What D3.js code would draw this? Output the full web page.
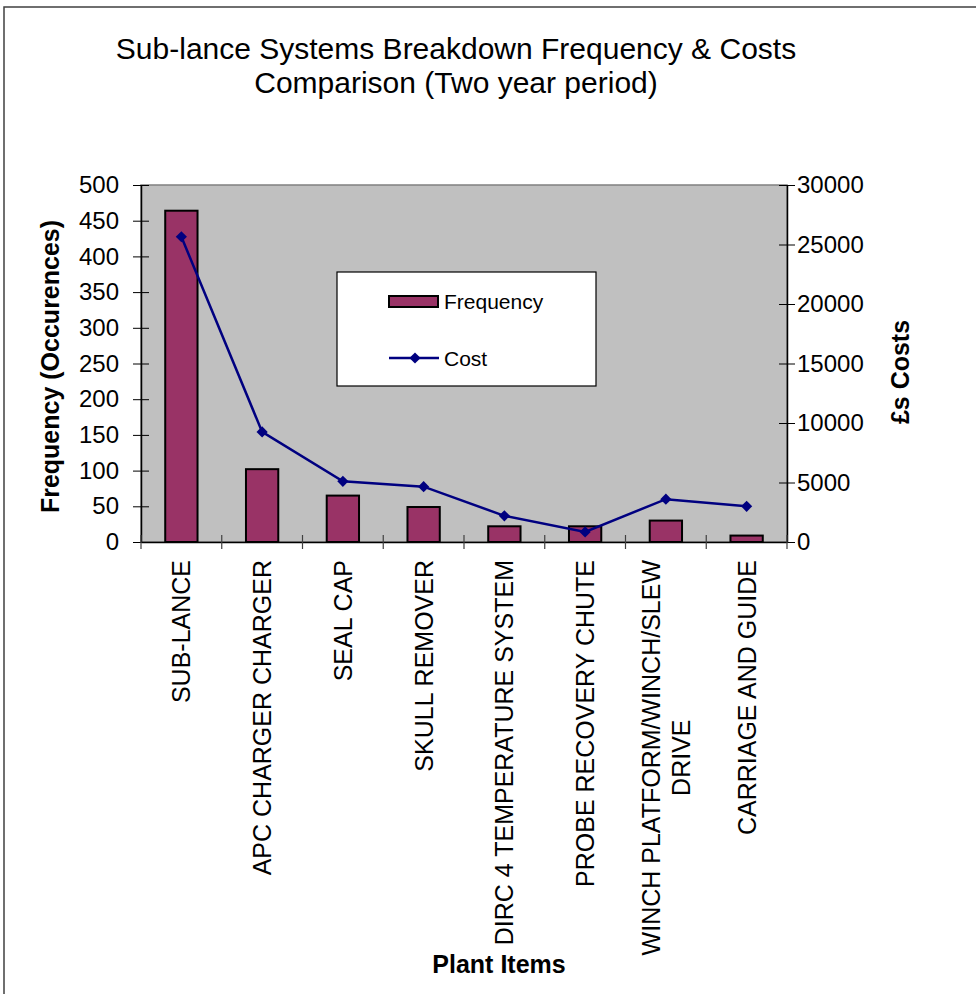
<!DOCTYPE html>
<html>
<head>
<meta charset="utf-8">
<script src="https://cdn.jsdelivr.net/npm/d3@7"></script>
<style>
  html, body { margin: 0; padding: 0; background: #fff; }
  svg { display: block; font-family: "Liberation Sans", Arial, sans-serif; }
</style>
</head>
<body>
<svg id="chart" width="976" height="994"></svg>
<script>
const categories = [
  "SUB-LANCE",
  "APC CHARGER CHARGER",
  "SEAL CAP",
  "SKULL REMOVER",
  "DIRC 4 TEMPERATURE SYSTEM",
  "PROBE RECOVERY CHUTE",
  "WINCH PLATFORM/WINCH/SLEW\nDRIVE",
  "CARRIAGE AND GUIDE"
];
const frequency = [464, 102, 65, 49, 22, 22, 30, 9];
const cost = [25650, 9250, 5100, 4650, 2200, 850, 3600, 3000];
const freqTicks = [0, 50, 100, 150, 200, 250, 300, 350, 400, 450, 500];
const costTicks = [0, 5000, 10000, 15000, 20000, 25000, 30000];
const titleLines = ["Sub-lance Systems Breakdown Frequency & Costs", "Comparison (Two year period)"];

const svg = d3.select("#chart");
const plot = { left: 141, right: 787, top: 185, bottom: 542 };

// outer frame
svg.append("rect").attr("x", 4).attr("y", 7).attr("width", 1000).attr("height", 1000)
  .attr("fill", "#fff").attr("stroke", "#404040").attr("stroke-width", 1.5);

// title
svg.append("g").selectAll("text").data(titleLines).join("text")
  .attr("x", 456).attr("y", (d, i) => 59 + i * 34)
  .attr("text-anchor", "middle").attr("font-size", 30).attr("fill", "#000")
  .text(d => d);

const x = d3.scaleBand().domain(categories).range([plot.left, plot.right]).paddingInner(0).paddingOuter(0);
const yL = d3.scaleLinear().domain([0, 500]).range([plot.bottom, plot.top]);
const yR = d3.scaleLinear().domain([0, 30000]).range([plot.bottom, plot.top]);

// plot area
svg.append("rect").attr("x", plot.left).attr("y", plot.top)
  .attr("width", plot.right - plot.left).attr("height", plot.bottom - plot.top)
  .attr("fill", "#c0c0c0").attr("stroke", "#808080").attr("stroke-width", 1.5);

// bars
const bw = x.bandwidth() * 0.4;
svg.append("g").selectAll("rect").data(frequency).join("rect")
  .attr("x", (d, i) => x(categories[i]) + x.bandwidth() / 2 - bw / 2)
  .attr("y", d => yL(d))
  .attr("width", bw)
  .attr("height", d => yL(0) - yL(d))
  .attr("fill", "#993366").attr("stroke", "#000").attr("stroke-width", 2);

// left axis
const axL = d3.axisLeft(yL).tickValues(freqTicks).tickFormat(d3.format("d")).tickSizeInner(8).tickSizeOuter(0).tickPadding(14);
const gL = svg.append("g").attr("transform", `translate(${plot.left},0)`).call(axL);
gL.select(".domain").attr("stroke", "#000").attr("stroke-width", 1.5);
gL.selectAll(".tick line").attr("x2", -8).attr("x1", 8).attr("stroke", "#000");
gL.selectAll(".tick text").attr("font-size", 24).attr("font-family", "Liberation Sans, Arial, sans-serif").attr("fill", "#000").attr("x", -22);

// right axis
const axR = d3.axisRight(yR).tickValues(costTicks).tickFormat(d3.format("d")).tickSizeInner(8).tickSizeOuter(0).tickPadding(9);
const gR = svg.append("g").attr("transform", `translate(${plot.right},0)`).call(axR);
gR.select(".domain").attr("stroke", "#000").attr("stroke-width", 1.5);
gR.selectAll(".tick line").attr("x1", -8).attr("x2", 8).attr("stroke", "#000");
gR.selectAll(".tick text").attr("font-size", 24).attr("font-family", "Liberation Sans, Arial, sans-serif").attr("fill", "#000").attr("x", 10);

// bottom axis
const axB = d3.axisBottom(x).tickValues([]).tickSizeOuter(0);
const gB = svg.append("g").attr("transform", `translate(0,${plot.bottom})`).call(axB);
gB.select(".domain").attr("stroke", "#000").attr("stroke-width", 1.5);
const boundaries = categories.map(c => x(c)).concat([plot.right]);
gB.selectAll("line.bt").data(boundaries).join("line").attr("class", "bt")
  .attr("x1", d => d).attr("x2", d => d).attr("y1", -7).attr("y2", 7)
  .attr("stroke", "#404040").attr("stroke-width", 1.2);

// category labels
const catG = svg.append("g");
categories.forEach(c => {
  const lines = c.split("\n");
  const g = catG.append("g").attr("transform", `translate(${x(c) + x.bandwidth() / 2},560) rotate(-90)`);
  const texts = lines.map((ln, i) => g.append("text")
    .attr("font-size", 25).attr("fill", "#000").attr("text-anchor", "middle")
    .attr("dy", "0.36em")
    .attr("y", (i - (lines.length - 1) / 2) * 30)
    .text(ln));
  const W = d3.max(texts, t => t.node().getComputedTextLength());
  texts.forEach(t => t.attr("x", -W / 2));
});

// cost line
const line = d3.line().x((d, i) => x(categories[i]) + x.bandwidth() / 2).y(d => yR(d));
svg.append("path").datum(cost).attr("d", line)
  .attr("fill", "none").attr("stroke", "#000080").attr("stroke-width", 2.5);
const diamond = d3.symbol().type(d3.symbolDiamond2).size(80);
svg.append("g").selectAll("path").data(cost).join("path")
  .attr("d", diamond)
  .attr("transform", (d, i) => `translate(${x(categories[i]) + x.bandwidth() / 2},${yR(d)})`)
  .attr("fill", "#000080");

// axis titles
svg.append("text").attr("transform", `translate(50,${(plot.top + plot.bottom) / 2 + 3}) rotate(-90)`)
  .attr("text-anchor", "middle").attr("dy", "0.36em")
  .attr("font-size", 25).attr("font-weight", "bold").text("Frequency (Occurences)");
svg.append("text").attr("transform", `translate(900,372) rotate(-90)`)
  .attr("text-anchor", "middle").attr("dy", "0.36em")
  .attr("font-size", 25).attr("font-weight", "bold").text("£s Costs");
svg.append("text").attr("x", 499).attr("y", 973)
  .attr("text-anchor", "middle")
  .attr("font-size", 25).attr("font-weight", "bold").text("Plant Items");

// legend
const lg = svg.append("g");
lg.append("rect").attr("x", 337).attr("y", 272).attr("width", 259).attr("height", 114)
  .attr("fill", "#fff").attr("stroke", "#000").attr("stroke-width", 1.2);
lg.append("rect").attr("x", 389).attr("y", 296).attr("width", 49).attr("height", 11)
  .attr("fill", "#993366").attr("stroke", "#000").attr("stroke-width", 2);
lg.append("text").attr("x", 444).attr("y", 301.5).attr("dy", "0.36em").attr("font-size", 21).text("Frequency");
lg.append("line").attr("x1", 389).attr("x2", 439).attr("y1", 358).attr("y2", 358)
  .attr("stroke", "#000080").attr("stroke-width", 2.5);
lg.append("path").attr("d", diamond).attr("transform", "translate(415,358)").attr("fill", "#000080");
lg.append("text").attr("x", 444).attr("y", 358).attr("dy", "0.36em").attr("font-size", 21).text("Cost");
</script>
</body>
</html>
